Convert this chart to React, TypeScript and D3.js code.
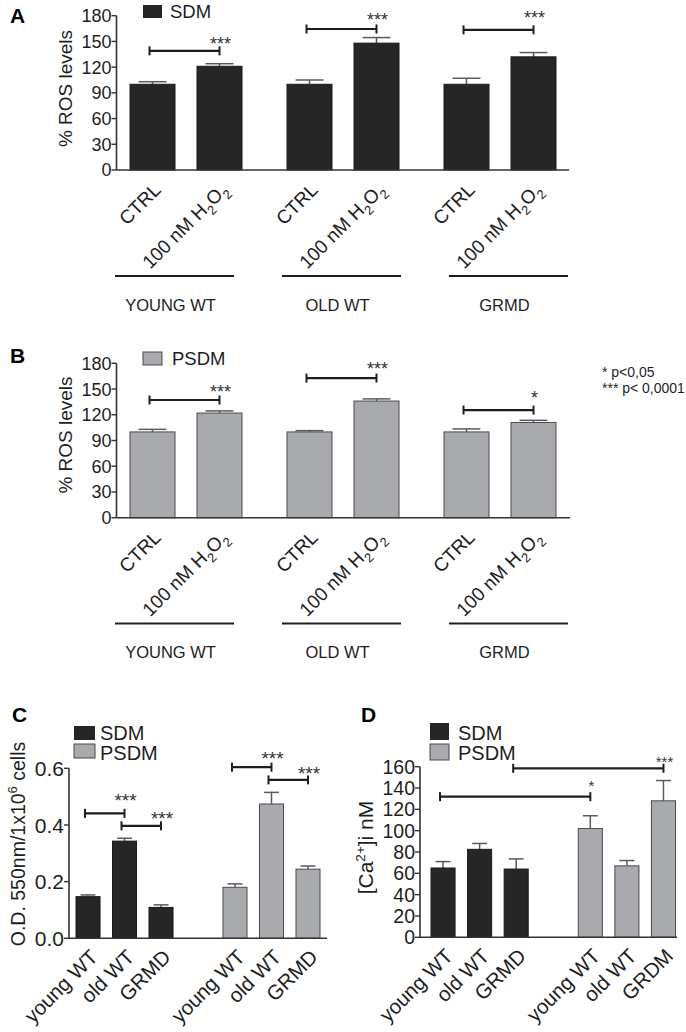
import React from "react";
import * as d3 from "d3";

// ---------- DATA ----------
const rosGroups = ["YOUNG WT", "OLD WT", "GRMD"];
const rosTreatments = ["CTRL", "100 nM H2O2"];
const rosTicks = [0, 30, 60, 90, 120, 150, 180];

const sdmRos = [100, 121, 100, 148, 100, 132];
const sdmRosErr = [3, 3, 5, 6.5, 7, 5];
const sdmRosSig = [
  { from: 0, to: 1, y: 139, text: "***", textY: 139.5 },
  { from: 2, to: 3, y: 164.5, text: "***", textY: 168 },
  { from: 4, to: 5, y: 163.5, text: "***", textY: 170 },
];

const psdmRos = [100, 122, 100, 136, 100, 111];
const psdmRosErr = [3, 2.5, 1.5, 2.5, 3.5, 2.5];
const psdmRosSig = [
  { from: 0, to: 1, y: 137.2, text: "***", textY: 140 },
  { from: 2, to: 3, y: 162.8, text: "***", textY: 166 },
  { from: 4, to: 5, y: 125.5, text: "*", textY: 132 },
];

const pNotes = ["* p<0,05", "*** p< 0,0001"];

const mediums = ["SDM", "PSDM"];
const cellLines = ["young WT", "old WT", "GRMD"];

const odTicks = [0, 0.2, 0.4, 0.6];
const sdmOD = [0.147, 0.343, 0.109];
const sdmODErr = [0.006, 0.01, 0.009];
const psdmOD = [0.18, 0.474, 0.244];
const psdmODErr = [0.012, 0.041, 0.011];
const odSig = [
  { from: 0, to: 1, y: 0.441, text: "***", textY: 0.465 },
  { from: 1, to: 2, y: 0.397, text: "***", textY: 0.4 },
  { from: 3, to: 4, y: 0.604, text: "***", textY: 0.612 },
  { from: 4, to: 5, y: 0.559, text: "***", textY: 0.559 },
];
const odLabels = ["young WT", "old WT", "GRMD", "young WT", "old WT", "GRMD"];

const caTicks = [0, 20, 40, 60, 80, 100, 120, 140, 160];
const sdmCa = [65, 82.5, 64];
const sdmCaErr = [6, 5.5, 9.5];
const psdmCa = [102, 67, 128];
const psdmCaErr = [12, 5, 19];
const caSig = [
  { from: 0, to: 3, y: 131.9, text: "*", textY: 137 },
  { from: 2, to: 5, y: 158.5, text: "***", textY: 159.6 },
];
const caLabels = ["young WT", "old WT", "GRMD", "young WT", "old WT", "GRDM"];

// ---------- STYLE ----------
const FONT = "'Liberation Sans', Arial, Helvetica, sans-serif";
const DARK = "#262626";
const GRAY = "#a8aaad";
const INK = "#1e1e1e";
const AXIS = "#333333";

type Sig = { from: number; to: number; y: number; text: string; textY: number };

function ChemLabel({ s, size }: { s: string; size: number }) {
  if (s.includes("H2O2")) {
    const head = s.replace("H2O2", "H");
    const sh = size * 0.3;
    return (
      <>
        <tspan>{head}</tspan>
        <tspan dy={sh} fontSize={size * 0.68}>2</tspan>
        <tspan dy={-sh}>O</tspan>
        <tspan dy={sh} fontSize={size * 0.68}>2</tspan>
      </>
    );
  }
  return <>{s}</>;
}

type PanelProps = {
  y: d3.ScaleLinear<number, number>;
  xs: number[];
  bw: number;
  vals: number[];
  errs: number[];
  fills: string[];
  ticks: number[];
  tickFmt: (v: number) => string;
  tickFont: number;
  axisX: number;
  axisEnd: number;
  labels: string[];
  labelFont: number;
  labelDx: number;
  labelDy: number;
  sigs: Sig[];
  starFont: number;
};

function Panel(p: PanelProps) {
  const y0 = p.y(0);
  const ymax = p.y(p.ticks[p.ticks.length - 1]);
  const centers = p.xs.map((x) => x + p.bw / 2);
  return (
    <g>
      {p.vals.map((v, i) => {
        const top = p.y(v);
        const et = p.y(v + p.errs[i]);
        const cap = p.bw * 0.31;
        const c = centers[i];
        return (
          <g key={i}>
            <line x1={c} x2={c} y1={top} y2={et} stroke="#5a5a5a" strokeWidth={1.5} />
            <line x1={c - cap} x2={c + cap} y1={et} y2={et} stroke="#5a5a5a" strokeWidth={1.5} />
            <rect
              x={p.xs[i]}
              y={top}
              width={p.bw}
              height={y0 - top}
              fill={p.fills[i]}
              stroke={p.fills[i] === DARK ? "#1a1a1a" : "#4a4a4a"}
              strokeWidth={1}
            />
          </g>
        );
      })}
      <line x1={p.axisX} x2={p.axisX} y1={ymax} y2={y0} stroke={AXIS} strokeWidth={1.6} />
      <line x1={p.axisX} x2={p.axisEnd} y1={y0} y2={y0} stroke={AXIS} strokeWidth={1.6} />
      {p.ticks.map((t) => (
        <g key={t}>
          <line x1={p.axisX - 5} x2={p.axisX} y1={p.y(t)} y2={p.y(t)} stroke={AXIS} strokeWidth={1.4} />
          <text
            x={p.axisX - 5}
            y={p.y(t)}
            dy="0.36em"
            textAnchor="end"
            fontSize={p.tickFont}
            fill={INK}
          >
            {p.tickFmt(t)}
          </text>
        </g>
      ))}
      {p.labels.map((l, i) => {
        const ax = centers[i] + p.labelDx;
        const ay = y0 + p.labelDy;
        return (
          <text
            key={i}
            x={ax}
            y={ay}
            textAnchor="end"
            fontSize={p.labelFont}
            fill={INK}
            transform={`rotate(-45 ${ax} ${ay})`}
          >
            <ChemLabel s={l} size={p.labelFont} />
          </text>
        );
      })}
      {p.sigs.map((s, i) => {
        const x1 = centers[s.from] - 3;
        const x2 = centers[s.to];
        const yy = p.y(s.y);
        return (
          <g key={i}>
            <line x1={x1} x2={x2} y1={yy} y2={yy} stroke={INK} strokeWidth={2.2} />
            <line x1={x1} x2={x1} y1={yy - 4.5} y2={yy + 4.5} stroke={INK} strokeWidth={2} />
            <line x1={x2} x2={x2} y1={yy - 4.5} y2={yy + 4.5} stroke={INK} strokeWidth={2} />
            <text x={x2 + 1} y={p.y(s.textY)} textAnchor="middle" fontSize={p.starFont} fill="#333">
              {s.text}
            </text>
          </g>
        );
      })}
    </g>
  );
}

function rosBars() {
  const outer = d3.scaleBand<string>().domain(rosGroups).range([130, 556]).paddingInner(45 / 157);
  const inner = d3
    .scaleBand<string>()
    .domain(rosTreatments)
    .range([0, outer.bandwidth()])
    .paddingInner(22 / 67);
  const xs: number[] = [];
  const labels: string[] = [];
  rosGroups.forEach((g) =>
    rosTreatments.forEach((t) => {
      xs.push((outer(g) as number) + (inner(t) as number));
      labels.push(t);
    })
  );
  return { xs, bw: inner.bandwidth(), labels };
}

function cellBars(r0: number, r1: number) {
  const outer = d3.scaleBand<string>().domain(mediums).range([r0, r1]).paddingInner(0.34);
  const inner = d3
    .scaleBand<string>()
    .domain(cellLines)
    .range([0, outer.bandwidth()])
    .paddingInner(0.342);
  const xs: number[] = [];
  const fills: string[] = [];
  mediums.forEach((m) =>
    cellLines.forEach((c) => {
      xs.push((outer(m) as number) + (inner(c) as number));
      fills.push(m === "SDM" ? DARK : GRAY);
    })
  );
  return { xs, bw: inner.bandwidth(), fills };
}

function GroupRow({ underY, textY }: { underY: number; textY: number }) {
  const band = d3.scaleBand<string>().domain(rosGroups).range([115, 568]).paddingInner(0.287);
  return (
    <g>
      {rosGroups.map((g) => {
        const x = band(g) as number;
        return (
          <g key={g}>
            <line x1={x} x2={x + band.bandwidth()} y1={underY} y2={underY} stroke={INK} strokeWidth={2} />
            <text x={x + band.bandwidth() / 2 - 4} y={textY} textAnchor="middle" fontSize={16.5} fill={INK}>
              {g}
            </text>
          </g>
        );
      })}
    </g>
  );
}

export default function App() {
  const ros = rosBars();
  const yA = d3.scaleLinear().domain([0, 180]).range([170, 15.7]);
  const yB = d3.scaleLinear().domain([0, 180]).range([517.7, 363.3]);
  const yC = d3.scaleLinear().domain([0, 0.6]).range([938.3, 768.3]);
  const yD = d3.scaleLinear().domain([0, 160]).range([937.3, 766.7]);
  const cC = cellBars(76, 320);
  const cD = cellBars(431, 675.5);
  const intFmt = (v: number) => String(v);
  const odFmt = d3.format(".1f");

  return (
    <svg
      width={686}
      height={1032}
      viewBox="0 0 686 1032"
      style={{ position: "absolute", left: 0, top: 0, background: "#fff" }}
      fontFamily={FONT}
    >
      <rect width={686} height={1032} fill="#fff" />

      {/* ---- Panel A ---- */}
      <text x={10} y={23} fontSize={21} fontWeight="bold" fill="#000">A</text>
      <rect x={143} y={5} width={19} height={13} fill={DARK} />
      <text x={170} y={17.5} fontSize={18.5} fill={INK}>{mediums[0]}</text>
      <text transform="rotate(-90 72 88.5)" x={72} y={88.5} textAnchor="middle" fontSize={19} fill={INK}>
        % ROS levels
      </text>
      <Panel
        y={yA}
        xs={ros.xs}
        bw={ros.bw}
        vals={sdmRos}
        errs={sdmRosErr}
        fills={sdmRos.map(() => DARK)}
        ticks={rosTicks}
        tickFmt={intFmt}
        tickFont={18}
        axisX={116.5}
        axisEnd={569}
        labels={ros.labels}
        labelFont={19}
        labelDx={9.5}
        labelDy={21}
        sigs={sdmRosSig}
        starFont={18}
      />
      <GroupRow underY={276} textY={310.5} />

      {/* ---- Panel B ---- */}
      <text x={10} y={363} fontSize={21} fontWeight="bold" fill="#000">B</text>
      <rect x={143} y={352} width={19} height={13} fill={GRAY} stroke="#4a4a4a" strokeWidth={1} />
      <text x={172} y={365} fontSize={18.5} fill={INK}>{mediums[1]}</text>
      <text transform="rotate(-90 72 435)" x={72} y={435} textAnchor="middle" fontSize={19} fill={INK}>
        % ROS levels
      </text>
      <Panel
        y={yB}
        xs={ros.xs}
        bw={ros.bw}
        vals={psdmRos}
        errs={psdmRosErr}
        fills={psdmRos.map(() => GRAY)}
        ticks={rosTicks}
        tickFmt={intFmt}
        tickFont={18}
        axisX={116.5}
        axisEnd={570}
        labels={ros.labels}
        labelFont={19}
        labelDx={9.5}
        labelDy={21}
        sigs={psdmRosSig}
        starFont={18}
      />
      <GroupRow underY={623.5} textY={658} />
      {pNotes.map((n, i) => (
        <text key={n} x={602} y={377 + i * 16} fontSize={14} fill={INK}>
          {n}
        </text>
      ))}

      {/* ---- Panel C ---- */}
      <text x={12} y={722} fontSize={21} fontWeight="bold" fill="#000">C</text>
      <rect x={74} y={726} width={21} height={14} fill={DARK} />
      <rect x={74} y={744} width={21} height={14} fill={GRAY} stroke="#4a4a4a" strokeWidth={1} />
      <text x={100} y={740} fontSize={20} fill={INK}>{mediums[0]}</text>
      <text x={100} y={760} fontSize={20} fill={INK}>{mediums[1]}</text>
      <text transform="rotate(-90 25 844)" x={25} y={844} textAnchor="middle" fontSize={19.5} fill={INK}>
        <tspan>O.D. 550nm/1x10</tspan>
        <tspan dy={-8} fontSize={13}>6</tspan>
        <tspan dy={8}> cells</tspan>
      </text>
      <Panel
        y={yC}
        xs={cC.xs}
        bw={cC.bw}
        vals={[...sdmOD, ...psdmOD]}
        errs={[...sdmODErr, ...psdmODErr]}
        fills={cC.fills}
        ticks={odTicks}
        tickFmt={odFmt}
        tickFont={21}
        axisX={69}
        axisEnd={327}
        labels={odLabels}
        labelFont={20.5}
        labelDx={11}
        labelDy={20}
        sigs={odSig}
        starFont={19}
      />

      {/* ---- Panel D ---- */}
      <text x={361} y={722} fontSize={21} fontWeight="bold" fill="#000">D</text>
      <rect x={430} y={723} width={19} height={17} fill={DARK} />
      <rect x={430} y={744} width={19} height={16} fill={GRAY} stroke="#4a4a4a" strokeWidth={1} />
      <text x={458} y={739.5} fontSize={20} fill={INK}>{mediums[0]}</text>
      <text x={458} y={759.5} fontSize={20} fill={INK}>{mediums[1]}</text>
      <text transform="rotate(-90 373 847.5)" x={373} y={847.5} textAnchor="middle" fontSize={21} fill={INK}>
        <tspan>[Ca</tspan>
        <tspan dy={-8} fontSize={13.5}>2+</tspan>
        <tspan dy={8}>]i nM</tspan>
      </text>
      <Panel
        y={yD}
        xs={cD.xs}
        bw={cD.bw}
        vals={[...sdmCa, ...psdmCa]}
        errs={[...sdmCaErr, ...psdmCaErr]}
        fills={cD.fills}
        ticks={caTicks}
        tickFmt={intFmt}
        tickFont={19.5}
        axisX={420}
        axisEnd={677}
        labels={caLabels}
        labelFont={20.5}
        labelDx={11}
        labelDy={20}
        sigs={caSig}
        starFont={15}
      />
    </svg>
  );
}
